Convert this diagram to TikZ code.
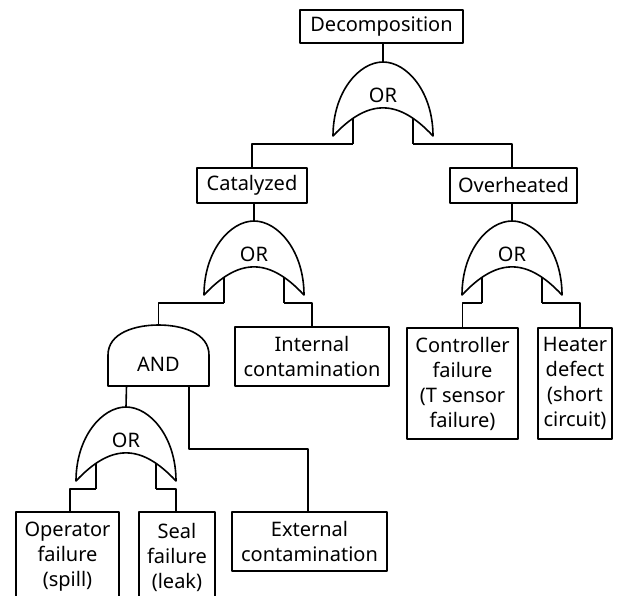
\documentclass[tikz,border=0pt]{standalone}
\usepackage{fontspec}
\setmainfont{Noto Sans}
\tikzset{
  ln/.style={line width=1.6pt, line join=round},
  box/.style={draw, ln, inner sep=0pt, align=center, font=\fontsize{20}{25}\selectfont},
  gatelabel/.style={inner sep=0pt, font=\fontsize{20}{25}\selectfont},
  orgate/.pic={
    \draw[ln] (0,0) .. controls (-24,0) and (-50,30) .. (-50,74)
      .. controls (-15,36.5) and (15,36.5) .. (50,74)
      .. controls (50,30) and (24,0) .. (0,0) -- cycle;
    \node[gatelabel] at (0,33) {OR};
    \draw[ln] (-30,56) -- (-30,82);
    \draw[ln] (30,56) -- (30,82);
    \coordinate (-top) at (0,0);
    \coordinate (-l) at (-30,82);
    \coordinate (-r) at (30,82);
  },
  andgate/.pic={
    \draw[ln] (-50.5,61) -- (-50.5,30) .. controls (-50.5,8) and (-23.5,0) .. (0,0)
      .. controls (23.5,0) and (50.5,8) .. (50.5,30) -- (50.5,61) -- cycle;
    \node[gatelabel] at (0,39) {AND};
    \coordinate (-top) at (0,0);
    \coordinate (-l) at (-32,61);
    \coordinate (-r) at (30.5,61);
  }
}
\begin{document}
\begin{tikzpicture}[x=1pt,y=-1pt]
\useasboundingbox (0,0) rectangle (623,596);
\clip (0,0) rectangle (623,596);

% boxes
\node[box, minimum width=163pt, minimum height=33pt] (dec) at (381.5,26.5) {Decomposition};
\node[box, minimum width=110pt, minimum height=35pt] (cat) at (252,185.5) {Catalyzed};
\node[box, minimum width=127pt, minimum height=35pt] (ovh) at (513.5,185.5) {Overheated};
\node[box, minimum width=154pt, minimum height=59pt] (int) at (312,356.5) {Internal\\contamination};
\node[box, minimum width=111pt, minimum height=111pt] (ctl) at (462.5,383.5) {Controller\\failure\\(T sensor\\failure)};
\node[box, minimum width=74pt, minimum height=111pt] (htr) at (575,383.5) {Heater\\defect\\(short\\circuit)};
\node[box, minimum width=103pt, minimum height=90pt] (opr) at (67.5,557) {Operator\\failure\\(spill)};
\node[box, minimum width=76pt, minimum height=90pt] (sea) at (177,557) {Seal\\failure\\(leak)};
\node[box, minimum width=155pt, minimum height=59pt] (ext) at (309.5,541.5) {External\\contamination};

% gates
\pic (g1) at (383,62) {orgate};
\pic (g2) at (254,221) {orgate};
\pic (g4) at (512,221) {orgate};
\pic (ga) at (158.5,325) {andgate};
\pic (g3) at (126,407) {orgate};

% connectors
\draw[ln] (dec.south -| g1-top) -- (g1-top);
\draw[ln] (g1-l) -| (cat.north);
\draw[ln] (g1-r) -| (ovh.north -| g4-top);
\draw[ln] (cat.south -| g2-top) -- (g2-top);
\draw[ln] (ovh.south -| g4-top) -- (g4-top);
\draw[ln] (g2-l) -| (ga-top);
\draw[ln] (g2-r) -| (int.north);
\draw[ln] (g4-l) -| (ctl.north);
\draw[ln] (g4-r) -| ([xshift=5pt]htr.north);
\draw[ln] (ga-l) -- (g3-top);
\draw[ln] (ga-r) -- ++(0,63) -| ([xshift=-1.5pt]ext.north);
\draw[ln] (g3-l) -| ([xshift=2.5pt]opr.north);
\draw[ln] (g3-r) -| ([xshift=-1pt]sea.north);
\end{tikzpicture}
\end{document}
